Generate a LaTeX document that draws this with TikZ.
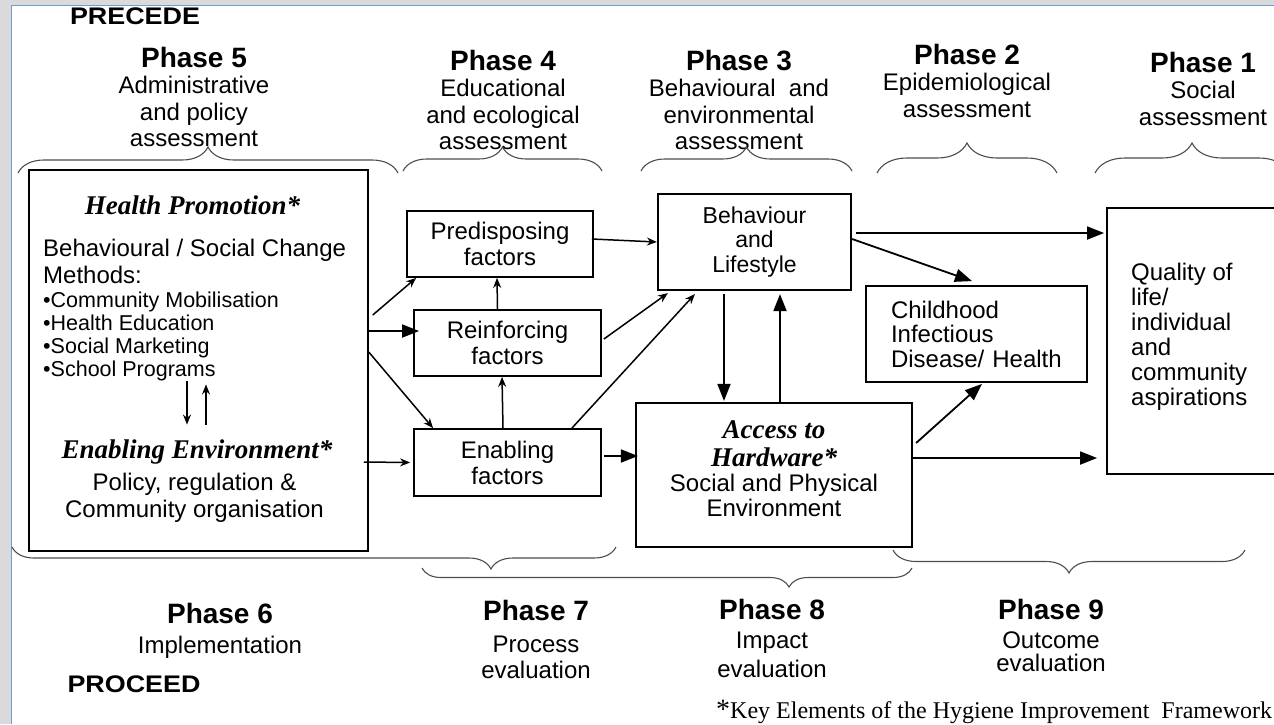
\documentclass[tikz,border=0pt]{standalone}
\usepackage{fontspec}
\setmainfont{Liberation Sans}
\newfontfamily\timesfont{Liberation Serif}
\usepackage{tikz}
\usetikzlibrary{arrows.meta,calc,decorations.pathreplacing}
\definecolor{framegray}{HTML}{DADADA}
\definecolor{frameblue}{HTML}{6C9CD8}
\definecolor{bracegray}{HTML}{4D4D4D}
\newcommand{\phase}[1]{{\fontsize{28}{27}\selectfont\bfseries #1}}
\newcommand{\keyel}[1]{{\timesfont\bfseries\itshape\fontsize{27}{29}\selectfont #1}}
\newcommand{\widebf}[1]{{\fontsize{24}{26}\selectfont\bfseries\scalebox{1.12}[1]{#1}}}

\begin{document}
\begin{tikzpicture}[x=1pt,y=-1pt]
    \tikzstyle{every node}+=[inner sep=0pt]
    \tikzstyle{box}=[draw=black, line width=1.8pt, align=center, font=\fontsize{24}{26}\selectfont]
    \tikzstyle{phasetxt}=[anchor=north, align=center, font=\fontsize{24}{26.5}\selectfont]
    \tikzstyle{bigarr}=[-{Triangle[length=17pt,width=13pt]}, line width=1.8pt]
    \tikzstyle{smallarr}=[-{Stealth[length=10pt,width=8pt]}, line width=1.5pt]
    \tikzstyle{brc}=[draw=bracegray, line width=1.1pt, decorate]
    \useasboundingbox (0,0) rectangle (1274,724);
    \fill [framegray] (0,0) rectangle (11,724);
    \fill [framegray] (0,0) rectangle (1274,5);
    \draw [frameblue, line width=1.5pt] (11.5,724) -- (11.5,5.5) -- (1274,5.5);

    \node (precede) at (135,16) {\widebf{PRECEDE}};
    \node (proceed) at (134,684) {\widebf{PROCEED}};
    \node [phasetxt] (ph5) at (194,47) {\phase{Phase 5}\\Administrative\\and policy\\assessment};
    \node [phasetxt] (ph4) at (503,50) {\phase{Phase 4}\\Educational\\and ecological\\assessment};
    \node [phasetxt] (ph3) at (739,50) {\phase{Phase 3}\\Behavioural\ \ and\\environmental\\assessment};
    \node [phasetxt] (ph2) at (967,44) {\phase{Phase 2}\\Epidemiological\\assessment};
    \node [phasetxt] (ph1) at (1203,52) {\phase{Phase 1}\\Social\\assessment};
    \node [phasetxt] (ph6) at (220,603) {\phase{Phase 6}\\[3pt]Implementation};
    \node [phasetxt] (ph7) at (536,600) {\phase{Phase 7}\\[5pt]Process\\evaluation};
    \node [phasetxt, font=\fontsize{24}{29}\selectfont] (ph8) at (772,599) {\phase{Phase 8}\\Impact\\evaluation};
    \node [phasetxt, font=\fontsize{24}{23}\selectfont] (ph9) at (1051,599) {\phase{Phase 9}\\[6pt]Outcome\\evaluation};
    \node [anchor=west, font=\timesfont\fontsize{24}{26}\selectfont] (note) at (716,712) {{\fontsize{28}{26}\selectfont*}Key Elements of the Hygiene Improvement\ \ Framework};

    \draw [brc, decoration={brace, amplitude=26pt}] (18,173) -- (398,173);
    \draw [brc, decoration={brace, amplitude=24pt}] (403,171) -- (602,171);
    \draw [brc, decoration={brace, amplitude=24pt}] (641,171) -- (852,171);
    \draw [brc, decoration={brace, amplitude=30pt}] (877,173) -- (1057,173);
    \draw [brc, decoration={brace, amplitude=30pt}] (1095,173) -- (1289,173);
    \draw [brc, decoration={brace, mirror, amplitude=22pt, aspect=0.793}] (12,547) -- (616,547);
    \draw [brc, decoration={brace, mirror, amplitude=19pt, aspect=0.749}] (422,568) -- (912,568);
    \draw [brc, decoration={brace, mirror, amplitude=23pt}] (893,550) -- (1245,550);

    \node [box, line width=1.5pt, minimum width=339, minimum height=381] (hp) at (198.5,360.5) {};
    \node (hpt) at (192.5,205) {\keyel{Health Promotion*}};
    \node [anchor=north west, align=left, font=\fontsize{24}{27}\selectfont] (methods) at (43,239) {Behavioural / Social Change\\Methods:};
    \node [anchor=north west, align=left, font=\fontsize{21.5}{23}\selectfont] (bullets) at (43,292) {•Community Mobilisation\\•Health Education\\•Social Marketing\\•School Programs};
    \node (envt) at (197,452) {\keyel{Enabling Environment*}};
    \node [anchor=north, align=center, font=\fontsize{24}{27}\selectfont] (policy) at (194.5,473) {Policy, regulation \&\\Community organisation};

    \node [box, minimum width=186, minimum height=66] (pre) at (500,244) {Predisposing\\factors};
    \node [box, minimum width=187, minimum height=66] (rein) at (507.5,343) {Reinforcing\\factors};
    \node [box, minimum width=187, minimum height=67] (enab) at (507.5,462.5) {Enabling\\factors};
    \node [box, line width=2.2pt, minimum width=193, minimum height=96, font=\fontsize{23}{24.5}\selectfont] (beh) at (754.5,242) {Behaviour\\and\\Lifestyle};
    \node [box, line width=2.2pt, minimum width=276, minimum height=144] (acc) at (774,475) {};
    \node [anchor=north, align=center, font=\fontsize{24}{25}\selectfont] (acct) at (774,420) {\keyel{Access to}\\[3pt]\keyel{Hardware*}\\Social and Physical\\Environment};
    \node [box, minimum width=221, minimum height=96] (child) at (976.5,334) {};
    \node [align=left, text width=172, font=\fontsize{24}{24.5}\selectfont] (childt) at (977,334) {Childhood\\Infectious\\Disease/ Health};
    \node [box, minimum width=183, minimum height=266] (qual) at (1198.5,341) {};
    \node [anchor=north west, align=left, font=\fontsize{24}{25}\selectfont] (qualt) at (1131,263) {Quality of\\life/\\individual\\and\\community\\aspirations};

    \draw [smallarr, line width=1.3pt] ($(bullets.south -| envt.north)+(-10,0)$) -- ($(envt.north)+(-10,-15)$);
    \draw [smallarr, line width=1.3pt] ($(envt.north)+(9,-15)$) -- ($(bullets.south -| envt.north)+(9,3)$);
    \draw [smallarr] ($(hp.east)+(4,-45.5)$) -- ($(pre.south west)+(10,0)$);
    \draw [bigarr] ($(hp.east)+(0,-29.5)$) -- ($(rein.west)+(6,-12)$);
    \draw [smallarr] ($(hp.east)+(0,-8.5)$) -- ($(enab.north west)+(20,0)$);
    \draw [smallarr] ($(hp.east)+(-5,101.5)$) -- ($(enab.west)+(-3,0)$);
    \draw [smallarr] ($(pre.east)+(-2,-5)$) -- (beh.west);
    \draw [smallarr] ($(rein.north)+(-10,0)$) -- ($(pre.south)+(-3,0)$);
    \draw [smallarr] ($(enab.north)+(-4.5,0)$) -- ($(rein.south)+(-5.5,0)$);
    \draw [smallarr] ($(rein.east)+(2,-4)$) -- ($(beh.south west)+(11,2)$);
    \draw [smallarr] ($(enab.north east)+(-30,0)$) -- ($(beh.south west)+(38,3)$);
    \draw [bigarr] ($(enab.east)+(2,-6.5)$) -- ($(acc.west)+(3,-19)$);
    \draw [bigarr] ($(beh.south)+(-30.5,3)$) -- ($(acc.north)+(-50,-1)$);
    \draw [bigarr] ($(acc.north)+(6,0)$) -- ($(beh.south)+(25.5,3)$);
    \draw [bigarr] ($(beh.east)+(4,-9)$) -- ($(qual.west)+(-2,-108)$);
    \draw [bigarr] ($(beh.east)+(0,-3)$) -- ($(child.north)+(-4.5,-4)$);
    \draw [bigarr] ($(acc.east)+(3,-32)$) -- ($(child.south)+(5.5,1)$);
    \draw [bigarr] ($(acc.east)+(-1,-17)$) -- ($(qual.west)+(-9,117)$);
\end{tikzpicture}
\end{document}
